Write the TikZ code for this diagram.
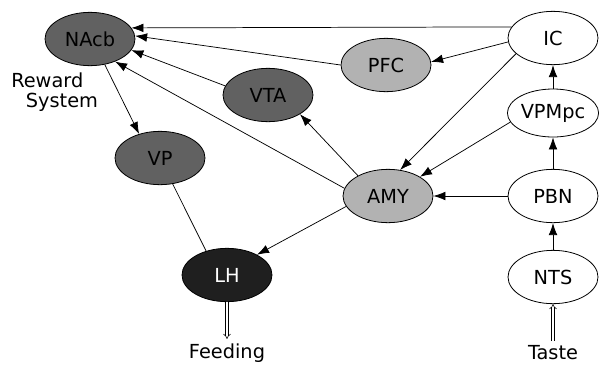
\documentclass[tikz,border=0pt]{standalone}
\usepackage{fontspec}
\setmainfont{DejaVu Sans}
\usetikzlibrary{shapes.geometric,arrows.meta}
\begin{document}
\begin{tikzpicture}[x=0.75pt,y=-0.75pt,
  nd/.style={ellipse,draw=black,line width=0.6pt,minimum width=67.5pt,minimum height=40pt,inner sep=0pt,font=\fontsize{14.5}{16}\selectfont},
  darknode/.style={nd,fill=black!62},
  lightnode/.style={nd,fill=black!30},
  lhnode/.style={nd,fill=black!88,text=white},
  plainnode/.style={nd,fill=white},
  arr/.style={line width=0.55pt,-{Latex[length=9pt,width=6.5pt]}},
  ln/.style={line width=0.55pt},
  dbl/.style={double,double distance=1.6pt,line width=0.4pt,-{Implies}},
  lbl/.style={font=\fontsize{14.5}{14.5}\selectfont}
]
\useasboundingbox (0,0) rectangle (599,365);
\fill[white] (0,0) rectangle (599,365);

\node[darknode] (NAcb) at (90,39) {NAcb};
\node[lightnode] (PFC) at (386,65) {PFC};
\node[plainnode] (IC) at (553,38) {IC};
\node[darknode] (VTA) at (268,95) {VTA};
\node[plainnode,minimum height=36pt] (VPMpc) at (553,113) {VPMpc};
\node[darknode] (VP) at (160,158) {VP};
\node[lightnode] (AMY) at (388,196) {AMY};
\node[plainnode] (PBN) at (553,196) {PBN};
\node[lhnode] (LH) at (227,275) {LH};
\node[plainnode] (NTS) at (553,277) {NTS};

\node[lbl,align=left,anchor=west,inner sep=0pt] (rew) at (11,92) {Reward\\\hspace*{11pt}System};
\node[lbl] (feeding) at (227,353) {Feeding};
\node[lbl] (taste) at (553,353) {Taste};

\draw[arr] (IC.165) -- (NAcb.15);
\draw[arr] (PFC.west) -- (NAcb.4);
\draw[arr] (IC.185) -- (PFC.4);
\draw[arr] (VTA.168) -- (NAcb.-15);
\draw[arr] (AMY.170) -- (NAcb.-42);
\draw[arr] (AMY.146) -- (VTA.-31);
\draw[arr] (IC.203) -- (AMY.65);
\draw[arr] (VPMpc.192) -- (AMY.31);
\draw[arr] (PBN.west) -- (AMY.east);
\draw[arr] (VPMpc.north) -- (IC.south);
\draw[arr] (PBN.north) -- (VPMpc.south);
\draw[arr] (NTS.north) -- (PBN.south);
\draw[arr] (AMY.194) -- (LH.34);
\draw[arr] (NAcb.-60) -- (VP.131);
\draw[ln] (VP.-64) -- (LH.131);
\draw[dbl] (LH.south) -- (feeding.north);
\draw[dbl] (taste.north) -- (NTS.south);
\end{tikzpicture}
\end{document}
